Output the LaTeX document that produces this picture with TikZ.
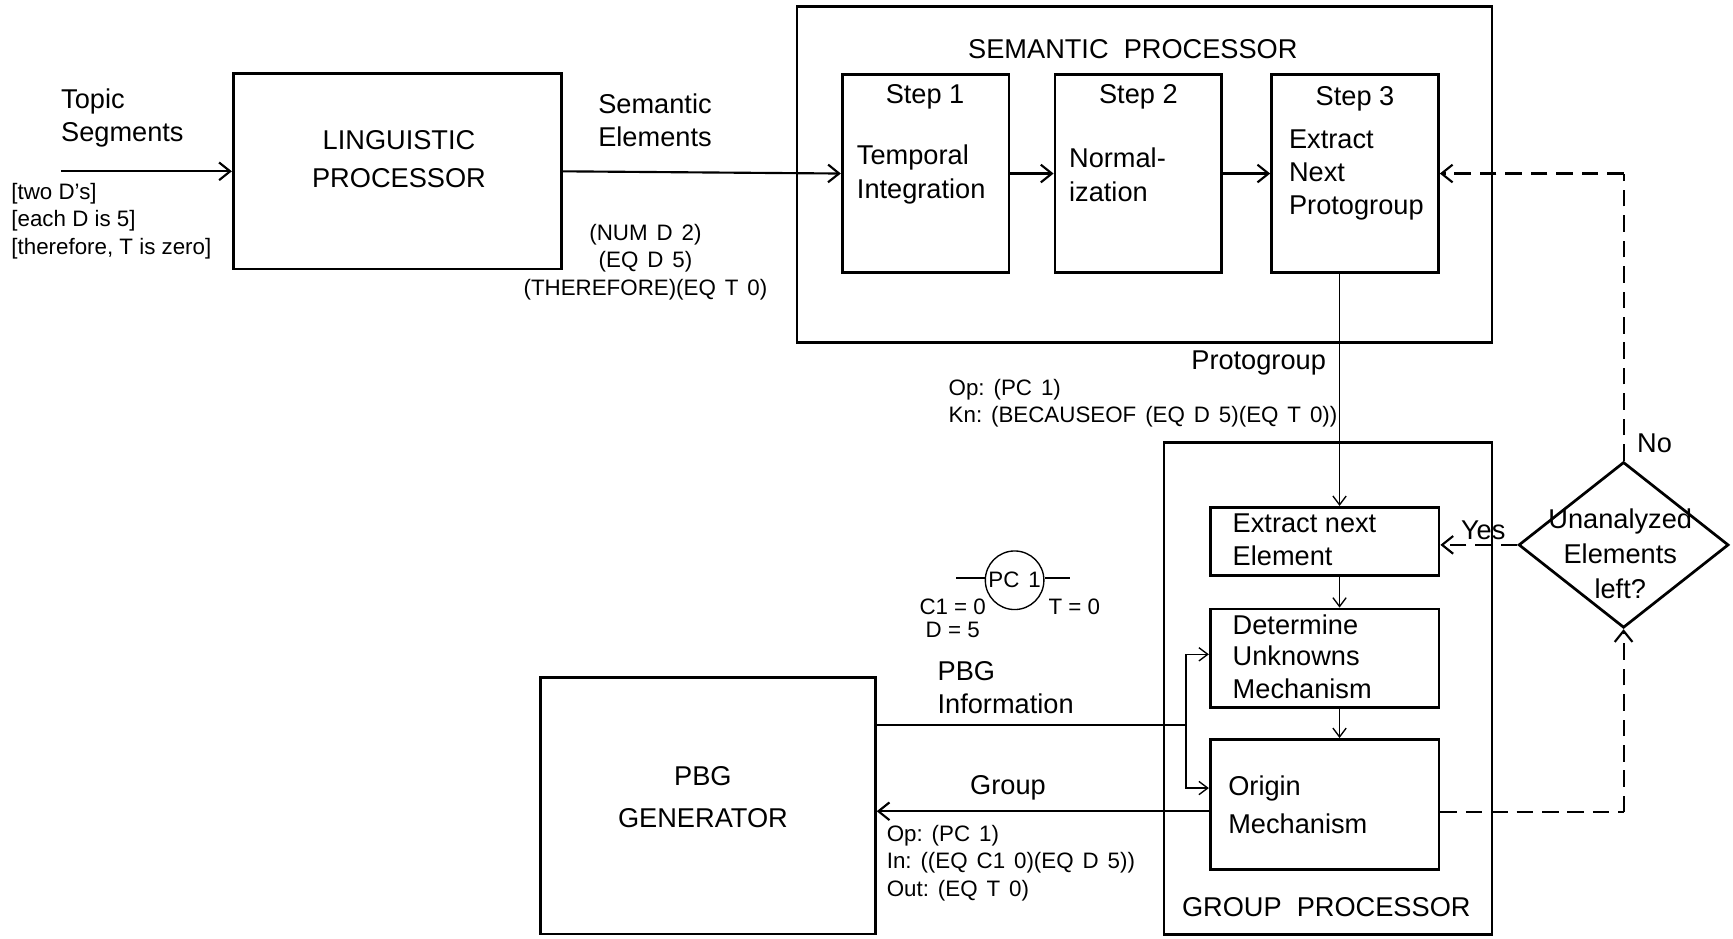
\documentclass[tikz,border=0pt]{standalone}
\usepackage{fontspec}
\setmainfont{Liberation Sans}
\usetikzlibrary{arrows.meta, shapes.geometric}
\newcommand{\bigsz}{\fontsize{14}{17}\selectfont}
\newcommand{\smallsz}{\fontsize{11.5}{14.2}\selectfont}
\newcommand{\sgap}{\hspace{0.4em}}

\begin{document}
\begin{tikzpicture}[
        x=0.2mm, y=-0.2mm,
        box/.style={draw, line width=1.4pt, inner sep=0pt},
        outer/.style={draw, line width=1.3pt, inner sep=0pt},
        txt/.style={font=\bigsz, align=left, inner sep=0pt},
        small/.style={font=\smallsz, align=left, inner sep=0pt},
        line/.style={line width=1.1pt},
        thin/.style={line width=0.7pt},
        arr/.style={line, -{Straight Barb[length=2mm, width=3.2mm]}},
        thinarr/.style={thin, -{Straight Barb[length=1.6mm, width=2.4mm]}},
        dasharr/.style={line, dash pattern=on 3mm off 1.6mm, -{Straight Barb[length=2mm, width=3.2mm]}},
        dashline/.style={line, dash pattern=on 3mm off 1.6mm}
    ]
        \useasboundingbox (0,0) rectangle (1568,849);

        % outer processors
        \node[outer, minimum width=125.8mm, minimum height=60.8mm] (sem) at (1035.5,158) {};
        \node[outer, minimum width=59.4mm, minimum height=89mm]    (grp) at (1201.5,623) {};
        \node[txt] (semtitle) at (1025,44) {SEMANTIC\ \ PROCESSOR};
        \node[txt] (grptitle) at (1200,821) {GROUP\ \ PROCESSOR};

        % main boxes
        \node[box, minimum width=59.4mm, minimum height=35.4mm] (ling) at (359.5,155) {};
        \node[txt, align=center] (lingtxt) at (361,144) {LINGUISTIC\\[2.3pt]PROCESSOR};
        \node[box, minimum width=60.6mm, minimum height=46.4mm] (pbg) at (640.5,729) {};
        \node[txt, align=center] (pbgtxt) at (636,721) {PBG\\[4.5pt]GENERATOR};

        % steps
        \node[box, minimum width=30.2mm, minimum height=35.8mm] (step1) at (837.5,157) {};
        \node[box, minimum width=30.2mm, minimum height=35.8mm] (step2) at (1030,157) {};
        \node[box, minimum width=30.2mm, minimum height=35.8mm] (step3) at (1226,157) {};
        \node[txt] (s1head) at (837,88) {Step 1};
        \node[txt] (s2head) at (1030,88) {Step 2};
        \node[txt] (s3head) at (1226,89) {Step 3};
        \node[txt, anchor=west] (s1txt) at (775,158) {Temporal\\[0.6pt]Integration};
        \node[txt, anchor=west] (s2txt) at (967,158) {Normal-\\[0.6pt]ization};
        \node[txt, anchor=west] (s3txt) at (1166,158) {Extract\\Next\\Protogroup};

        % group processor parts
        \node[box, minimum width=41.4mm, minimum height=12.4mm] (extract) at (1198.5,490) {};
        \node[box, minimum width=41.4mm, minimum height=17.8mm] (determ)  at (1198.5,595.5) {};
        \node[box, minimum width=41.4mm, minimum height=23.6mm] (origin)  at (1198.5,728) {};
        \node[txt, anchor=west] (extxt) at (1115,488) {Extract next\\Element};
        \node[txt, anchor=west] (dttxt) at (1115,594) {Determine\\[-1pt]Unknowns\\Mechanism};
        \node[txt, anchor=west] (ortxt) at (1111,728) {Origin\\[2.3pt]Mechanism};

        \node[draw, diamond, line width=1.4pt, minimum width=38mm, minimum height=30mm, inner sep=0pt] (left) at (1469,493) {};
        \node[txt, align=center] (lefttxt) at (1466,501) {Unanalyzed\\[0.9pt]Elements\\[0.9pt]left?};

        % labels
        \node[txt, anchor=west] (topic) at (55,107) {Topic\\Segments};
        \node[small, anchor=west] (words) at (10,200) {{[}two D's{]}\\{[}each D is 5{]}\\{[}therefore, T is zero{]}};
        \node[txt, anchor=west] (semel) at (541,109) {Semantic\\Elements};
        \node[small, align=center] (tuples) at (584,237) {(NUM\sgap D\sgap 2)\\(EQ\sgap D\sgap 5)\\(THEREFORE)(EQ\sgap T\sgap 0)};
        \node[txt, anchor=east] (pglbl) at (1200,328) {Protogroup};
        \node[small, anchor=west] (pgdata) at (858,365) {Op:\sgap (PC\sgap 1)\\Kn:\sgap (BECAUSEOF\sgap (EQ\sgap D\sgap 5)(EQ\sgap T\sgap 0))};
        \node[txt, anchor=west] (pbginfo) at (848,622) {PBG\\Information};
        \node[txt] (grplbl) at (912,713) {Group};
        \node[small, anchor=west] (grpdata) at (802,781) {Op:\sgap (PC\sgap 1)\\In:\sgap ((EQ\sgap C1\sgap 0)(EQ\sgap D\sgap 5))\\Out:\sgap (EQ\sgap T\sgap 0)};
        \node[txt] (nolbl) at (1497,401) {No};
        \node[txt] (yeslbl) at (1342,480) {Yes};

        % PC 1 sketch
        \node[draw, circle, thin, minimum size=10.6mm, inner sep=0pt, font=\smallsz] (pc) at (918,525) {PC\sgap 1};
        \coordinate (pcl) at (865,523);
        \coordinate (pcr) at (968,523);
        \draw[thin] (pcl) -- (pcl -| pc.west);
        \draw[thin] (pcr) -- (pcr -| pc.east);
        \node[small, align=center] (pcin) at (862,559.5) {C1 = 0\\[-2.2pt]D = 5};
        \node[small] (pcout) at (972,549) {T = 0};

        % forward path
        \coordinate (tin) at (55,155);
        \draw[arr] (tin) -- (ling.west |- tin);
        \draw[arr] (ling.east) -- (step1.west);
        \draw[arr] (step1.east) -- (step2.west);
        \draw[arr] (step2.east) -- (step3.west);

        % protogroup down into group processor
        \coordinate (pgtop) at (1212,248);
        \draw[thinarr] (pgtop |- step3.south) -- (pgtop |- extract.north);
        \draw[thinarr] (pgtop |- extract.south) -- (pgtop |- determ.north);
        \draw[thinarr] (pgtop |- determ.south) -- (pgtop |- origin.north);

        % PBG information fork
        \coordinate (pj)  at (1073,656);
        \coordinate (pj1) at (1073,592);
        \coordinate (pj2) at (1073,713);
        \draw[line] (pbg.east |- pj) -- (pj);
        \draw[thinarr] (pj) -- (pj1) -- (pj1 -| determ.west);
        \draw[thinarr] (pj) -- (pj2) -- (pj2 -| origin.west);

        % group back to generator
        \coordinate (gy) at (1095,734);
        \draw[arr] (gy) -- (gy -| pbg.east);

        % loop (dashed)
        \coordinate (lp1) at (1469,157);
        \draw[dasharr] (left.west) -- (left.west -| extract.east);
        \draw[dashline] (left.north) -- (lp1);
        \draw[dasharr] (lp1) -- (step3.east);
        \coordinate (lp2) at (1469,735);
        \draw[dashline] (origin.east |- lp2) -- (lp2);
        \draw[dasharr] (lp2) -- (left.south);
    \end{tikzpicture}
\end{document}
